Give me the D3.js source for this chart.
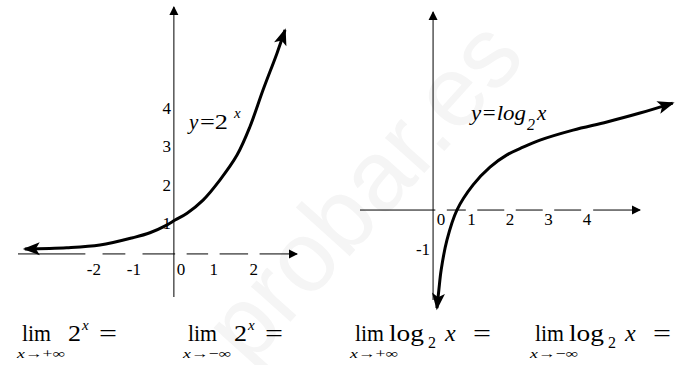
<!DOCTYPE html>
<html>
<head>
<meta charset="utf-8">
<script src="https://cdn.jsdelivr.net/npm/d3@7"></script>
<style>
body { margin: 0; background: #fff; }
svg { display: block; }
</style>
</head>
<body>
<svg width="683" height="365"></svg>
<script>
// Curves (data units of each panel).
const expX = [-3.73, -2.68, -1.85, -1.03, -0.6, -0.18, 0.03, 0.33, 0.73, 1.15, 1.58, 1.9, 2.23, 2.58, 2.78]
const expY = [0.13, 0.16, 0.23, 0.42, 0.55, 0.75, 0.88, 1.06, 1.40, 1.92, 2.57, 3.30, 4.26, 5.22, 5.82]
const logX = [0.10, 0.15, 0.21, 0.36, 0.62, 1.04, 1.48, 1.92, 2.34, 2.78, 3.64, 4.52, 5.38, 6.23]
const logY = [-2.65, -2.16, -1.62, -0.81, 0, 0.68, 1.16, 1.49, 1.70, 1.89, 2.16, 2.38, 2.62, 2.89]

// Tick labels.
const expTicksX = [-2, -1, 0, 1, 2]
const expTicksY = [1, 2, 3, 4]
const logTicksX = [0, 1, 2, 3, 4]
const logTicksY = [-1]

// Limits written under the graphs.
const limSub = ['x→+∞', 'x→−∞', 'x→+∞', 'x→−∞']
const limFn = ['exp', 'exp', 'log', 'log']

const svg = d3.select('svg')

// every text gets the one serif family
const txt = (sel, size) => sel.append('text')
	.style('font-family', 'Liberation Serif')
	.style('font-size', size + 'px')
// stretch a piece of text to the width it has in the picture
const fit = (t, w) => t.attr('textLength', w).attr('lengthAdjust', 'spacingAndGlyphs')

// watermark
svg.append('text')
	.attr('transform', 'translate(362,190) rotate(-48)')
	.attr('text-anchor', 'middle')
	.attr('dominant-baseline', 'central')
	.style('font-family', 'Liberation Sans')
	.style('font-size', '100px')
	.attr('fill', '#f5f5f5')
	.text('probar.es')

const defs = svg.append('defs')
defs.append('marker')
	.attr('id', 'head')
	.attr('viewBox', '-20 -10 24 20')
	.attr('markerUnits', 'userSpaceOnUse')
	.attr('markerWidth', 24).attr('markerHeight', 20)
	.attr('refX', 0).attr('refY', 0)
	.attr('orient', 'auto-start-reverse')
	.append('path')
	.attr('d', 'M2,0 L-15,-6.5 L-11,0 L-15,6.5 Z')
	.attr('fill', '#000')
defs.append('marker')
	.attr('id', 'axhead')
	.attr('viewBox', '-12 -6 14 12')
	.attr('markerUnits', 'userSpaceOnUse')
	.attr('markerWidth', 14).attr('markerHeight', 12)
	.attr('refX', 0).attr('refY', 0)
	.attr('orient', 'auto')
	.append('path')
	.attr('d', 'M1,0 L-8,-4.5 L-8,4.5 Z')
	.attr('fill', '#000')

const fmt = d => d < 0 ? '-' + Math.abs(d) : String(d)

function panel(opt) {
	const x = d3.scaleLinear().domain(opt.xd).range(opt.xr)
	const y = d3.scaleLinear().domain(opt.yd).range(opt.yr)
	const g = svg.append('g')

	// axes
	g.append('line')
		.attr('x1', x(opt.xd[0])).attr('x2', x(opt.xd[1]))
		.attr('y1', y(0)).attr('y2', y(0))
		.attr('stroke', '#000').attr('stroke-width', 1)
		.attr('marker-end', 'url(#axhead)')
	g.append('line')
		.attr('x1', x(0)).attr('x2', x(0))
		.attr('y1', y(opt.yd[0])).attr('y2', y(opt.yd[1]))
		.attr('stroke', '#000').attr('stroke-width', 1)
		.attr('marker-end', 'url(#axhead)')

	// x tick labels sit on a white box that breaks the axis line
	opt.ticksX.forEach(d => {
		const tg = g.append('g')
			.attr('transform', `translate(${x(d) + (d === 0 ? opt.zeroDx : 0)},${y(0) + opt.labelDy})`)
		const t = txt(tg, 17).attr('text-anchor', 'middle').text(fmt(d))
		const b = t.node().getBBox()
		tg.insert('rect', 'text')
			.attr('x', b.x - 1.5).attr('width', b.width + 3)
			.attr('y', -opt.labelDy - 2).attr('height', opt.labelDy + 4)
			.attr('fill', '#fff')
	})

	opt.ticksY.forEach(d => {
		txt(g, 17)
			.attr('x', x(0) - 3)
			.attr('y', y(d) + opt.labelDyY)
			.attr('text-anchor', 'end')
			.text(fmt(d))
	})

	const line = d3.line()
		.x(d => x(d[0]))
		.y(d => y(d[1]))
		.curve(d3.curveCatmullRom)
	g.append('path')
		.datum(d3.zip(opt.cx, opt.cy))
		.attr('d', line)
		.attr('fill', 'none')
		.attr('stroke', '#000')
		.attr('stroke-width', 3)
		.attr('marker-start', 'url(#head)')
		.attr('marker-end', 'url(#head)')
	return g
}

panel({
	xd: [-3.9, 3.08], xr: [18, 297],
	yd: [-1.12, 6.42], yr: [297, 7],
	ticksX: expTicksX, ticksY: expTicksY,
	zeroDx: 7, labelDy: 21, labelDyY: 13.5,
	cx: expX, cy: expY
})
panel({
	xd: [-1.9, 5.38], xr: [360, 640],
	yd: [-2.43, 5.35], yr: [300, 12],
	ticksX: logTicksX, ticksY: logTicksY,
	zeroDx: 8, labelDy: 15, labelDyY: 8,
	cx: logX, cy: logY
})

// curve names
txt(svg, 21).attr('x', 189).attr('y', 129).style('font-style', 'italic').text('y')
fit(txt(svg, 21).attr('x', 200).attr('y', 129).text('=2'), 28)
txt(svg, 15).attr('x', 234).attr('y', 118).style('font-style', 'italic').text('x')

fit(txt(svg, 21).attr('x', 471).attr('y', 120).style('font-style', 'italic').text('y=log'), 55)
txt(svg, 16).attr('x', 527).attr('y', 130).style('font-style', 'italic').text('2')
txt(svg, 21).attr('x', 537).attr('y', 120).style('font-style', 'italic').text('x')

// limits
const limX = [22, 188, 355, 535]
limFn.forEach((f, i) => {
	const g = svg.append('g').attr('transform', `translate(${limX[i]},0)`)
	fit(txt(g, 24).attr('y', 341).text('lim'), 29)
	const s = fit(txt(g, 13).attr('x', -5).attr('y', 358), 48)
	s.append('tspan').style('font-style', 'italic').text('x')
	s.append('tspan').text(limSub[i].slice(1))
	if (f === 'exp') {
		fit(txt(g, 24).attr('x', 46).attr('y', 341).text('2'), 13)
		txt(g, 15).attr('x', 60).attr('y', 330).style('font-style', 'italic').text('x')
		fit(txt(g, 24).attr('x', 77).attr('y', 341).text('='), 18)
	} else {
		fit(txt(g, 24).attr('x', 34).attr('y', 341).text('log'), 35)
		txt(g, 16).attr('x', 73).attr('y', 348).text('2')
		txt(g, 24).attr('x', 90).attr('y', 341).style('font-style', 'italic').text('x')
		fit(txt(g, 24).attr('x', 118).attr('y', 341).text('='), 18)
	}
})
</script>
</body>
</html>
